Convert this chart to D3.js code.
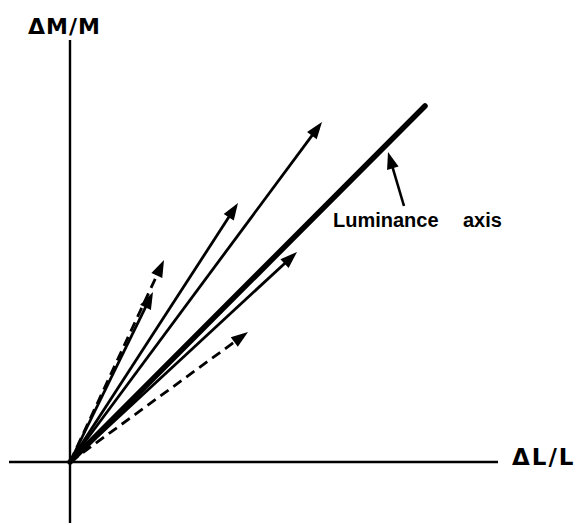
<!DOCTYPE html>
<html>
<head>
<meta charset="utf-8">
<script src="https://cdn.jsdelivr.net/npm/d3@7"></script>
<style>
  html, body { margin: 0; padding: 0; background: #fff; }
  text { font-family: "Liberation Sans", Arial, sans-serif; font-weight: bold; fill: #000; }
  text.axis-label { font-family: "DejaVu Sans", sans-serif; }
</style>
</head>
<body>
<svg id="chart" width="576" height="525"></svg>
<script>
// Cone-contrast plane: ΔL/L horizontal, ΔM/M vertical (arbitrary units)
const axisLabels = ["ΔL/L", "ΔM/M"];
const xExtent = [-1.22, 8.56];
const yExtent = [-1.22, 8.44];

// Luminance axis (heavy line through the origin)
const luminanceEnd = [7.1, 7.12];

// Test vectors from the origin
const vectorNames = ["a", "b", "c", "d", "e", "f"];
const vectorDL = [5.04, 3.36, 1.66, 1.88, 4.54, 3.56];
const vectorDM = [6.80, 5.18, 3.40, 4.04, 4.20, 2.60];
const vectorDashed = [false, false, false, true, false, true];

// Annotation pointer and its label
const pointerFrom = [6.68, 5.12];
const pointerTo = [6.36, 6.20];
const annotationWords = ["Luminance", "axis"];
const annotationX = [5.26, 7.86];
const annotationY = 4.7;

const svg = d3.select("#chart");
const x = d3.scaleLinear().domain(xExtent).range([9, 498]);
const y = d3.scaleLinear().domain(yExtent).range([523, 40]);

// axes through the origin
svg.append("line")
  .attr("x1", x(xExtent[0])).attr("x2", x(xExtent[1]))
  .attr("y1", y(0)).attr("y2", y(0))
  .attr("stroke", "#000").attr("stroke-width", 2.4);
svg.append("line")
  .attr("x1", x(0)).attr("x2", x(0))
  .attr("y1", y(yExtent[0])).attr("y2", y(yExtent[1]))
  .attr("stroke", "#000").attr("stroke-width", 2.4);

svg.append("text").attr("class", "axis-label")
  .attr("x", 512).attr("y", y(0) + 3)
  .attr("font-size", 23).attr("letter-spacing", 2)
  .text(axisLabels[0]);
svg.append("text").attr("class", "axis-label")
  .attr("x", 28).attr("y", 34)
  .attr("font-size", 22).attr("letter-spacing", 1)
  .text(axisLabels[1]);

// luminance axis
svg.append("line")
  .attr("x1", x(0)).attr("y1", y(0))
  .attr("x2", x(luminanceEnd[0])).attr("y2", y(luminanceEnd[1]))
  .attr("stroke", "#000").attr("stroke-width", 5.5).attr("stroke-linecap", "round");

// arrow with a filled triangular head drawn in pixel space from the scales
function arrow(g, p0, p1, opts) {
  const x0 = x(p0[0]), y0 = y(p0[1]), x1 = x(p1[0]), y1 = y(p1[1]);
  const dx = x1 - x0, dy = y1 - y0, len = Math.hypot(dx, dy);
  const ux = dx / len, uy = dy / len;
  const hl = opts.headLength, hw = opts.headWidth / 2;
  const bx = x1 - ux * hl, by = y1 - uy * hl;
  g.append("line")
    .attr("x1", x0).attr("y1", y0)
    .attr("x2", bx + ux * 2).attr("y2", by + uy * 2)
    .attr("stroke", "#000").attr("stroke-width", opts.width)
    .attr("stroke-dasharray", opts.dashed ? "10,6" : null);
  g.append("path")
    .attr("d", `M${x1},${y1}L${bx - uy * hw},${by + ux * hw}L${bx + uy * hw},${by - ux * hw}Z`)
    .attr("fill", "#000");
}

const vectors = svg.append("g");
vectorNames.forEach((name, i) => {
  arrow(vectors, [0, 0], [vectorDL[i], vectorDM[i]],
    { width: 2.8, headLength: 17, headWidth: 12, dashed: vectorDashed[i] });
});

// pointer to the luminance axis
arrow(svg.append("g"), pointerFrom, pointerTo, { width: 2.6, headLength: 17, headWidth: 12, dashed: false });

annotationWords.forEach((w, i) => {
  svg.append("text")
    .attr("x", x(annotationX[i])).attr("y", y(annotationY))
    .attr("font-size", 20)
    .text(w);
});
</script>
</body>
</html>
